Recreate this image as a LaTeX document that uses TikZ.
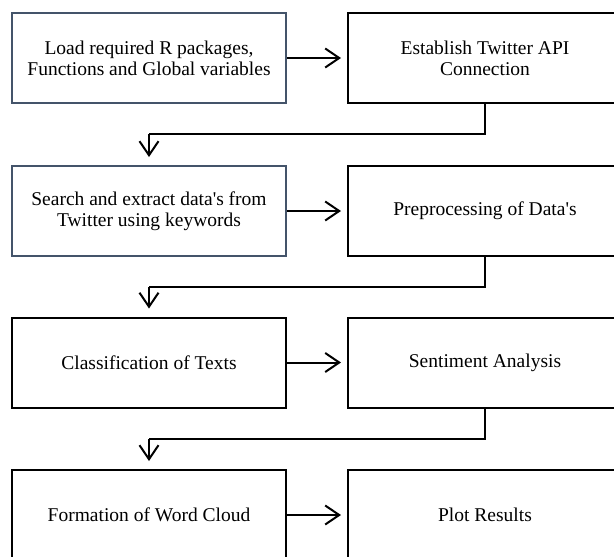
\documentclass[tikz,border=0pt]{standalone}
\usepackage{fontspec}
\setmainfont{Liberation Serif}[Ligatures=TeXOff]
\usetikzlibrary{arrows.meta}
\definecolor{slateedge}{RGB}{68,84,106}
\tikzset{
  stepbox/.style={draw=black, line width=2pt, minimum width=274pt, minimum height=90pt,
    inner sep=0pt, align=center, font=\fontsize{19.5pt}{21pt}\selectfont},
  slatebox/.style={stepbox, draw=slateedge},
  flow/.style={draw=black, line width=2pt, -{Straight Barb[length=14pt,width=19pt,line width=2pt]}},
  elbow/.style={draw=black, line width=2pt}
}
\begin{document}
\begin{tikzpicture}[x=1pt,y=-1pt]
  \useasboundingbox (0,0) rectangle (614,557);
  \fill[white] (0,0) rectangle (614,557);
  \clip (0,0) rectangle (614,557);
  % left column centre x = 149, right column centre x = 485
  \node[slatebox] (load)   at (149,58)  {Load required R packages,\\Functions and Global variables};
  \node[stepbox]  (api)    at (485,58)  {Establish Twitter API\\Connection};
  \node[slatebox] (search) at (149,211) {Search and extract data's from\\Twitter using keywords};
  \node[stepbox]  (prep)   at (485,211) {Preprocessing of Data's};
  \node[stepbox]  (class)  at (149,362.5) {Classification of Texts};
  \node[stepbox]  (senti)  at (485,362.5) {Sentiment Analysis};
  \node[stepbox]  (cloud)  at (149,515) {Formation of Word Cloud};
  \node[stepbox]  (plot)   at (485,515) {Plot Results};

  % horizontal steps
  \draw[flow] (load.east)   -- ([xshift=-6pt]api.west);
  \draw[flow] (search.east) -- ([xshift=-6pt]prep.west);
  \draw[flow] (class.east)  -- ([xshift=-6pt]senti.west);
  \draw[flow] (cloud.east)  -- ([xshift=-6pt]plot.west);

  % elbow connectors down to the next row
  \coordinate (r1) at (149,134);
  \coordinate (r2) at (149,287);
  \coordinate (r3) at (149,439);
  \draw[elbow] (api.south) |- (r1);
  \draw[flow] (r1) -- ([yshift=8pt]search.north);
  \draw[elbow] (prep.south) |- (r2);
  \draw[flow] (r2) -- ([yshift=8pt]class.north);
  \draw[elbow] (senti.south) |- (r3);
  \draw[flow] (r3) -- ([yshift=8pt]cloud.north);
\end{tikzpicture}
\end{document}
